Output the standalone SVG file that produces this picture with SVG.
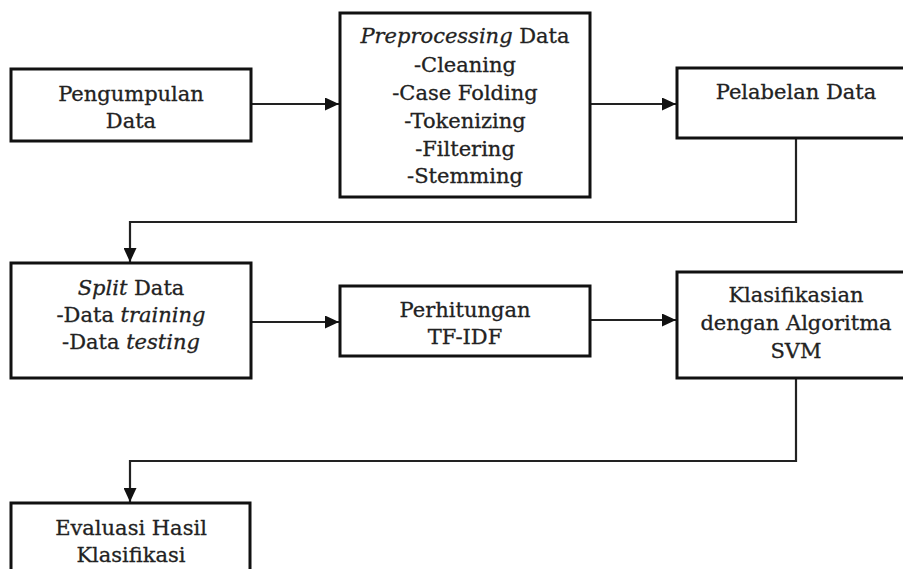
<svg xmlns="http://www.w3.org/2000/svg" width="903" height="569" viewBox="0 0 903 569">
<style>
.box{fill:#fff;stroke:#111;stroke-width:3}
.t{font-family:"DejaVu Serif","Liberation Serif",serif;font-size:21px;fill:#222;stroke:#222;stroke-width:0.3;text-anchor:middle}
.i{font-style:italic}
.c{fill:none;stroke:#222;stroke-width:2.2}
</style>
<defs>
<marker id="ah" markerUnits="userSpaceOnUse" markerWidth="15" markerHeight="13" refX="14" refY="6.5" orient="auto">
<path d="M0,0 L14,6.5 L0,13 z" fill="#111"/>
</marker>
</defs>
<rect width="903" height="569" fill="#fff"/>
<g id="connectors">
<path class="c" d="M251,104 H339" marker-end="url(#ah)"/>
<path class="c" d="M590,104 H676" marker-end="url(#ah)"/>
<path class="c" d="M796,139 V222 H130 V262" marker-end="url(#ah)"/>
<path class="c" d="M251,322 H339" marker-end="url(#ah)"/>
<path class="c" d="M590,320 H676" marker-end="url(#ah)"/>
<path class="c" d="M796,379 V461 H130 V502" marker-end="url(#ah)"/>
</g>
<g id="n1">
<rect class="box" x="11" y="69" width="240" height="72"/>
<text class="t" x="131" y="101">Pengumpulan</text>
<text class="t" x="131" y="128">Data</text>
</g>
<g id="n2">
<rect class="box" x="340" y="13" width="250" height="184"/>
<text class="t" x="465" y="43"><tspan class="i">Preprocessing</tspan> Data</text>
<text class="t" x="465" y="72">-Cleaning</text>
<text class="t" x="465" y="100">-Case Folding</text>
<text class="t" x="465" y="128">-Tokenizing</text>
<text class="t" x="465" y="156">-Filtering</text>
<text class="t" x="465" y="183">-Stemming</text>
</g>
<g id="n3">
<rect class="box" x="677" y="68" width="240" height="70"/>
<text class="t" x="796" y="99">Pelabelan Data</text>
</g>
<g id="n4">
<rect class="box" x="11" y="263" width="240" height="115"/>
<text class="t" x="131" y="295"><tspan class="i">Split</tspan> Data</text>
<text class="t" x="131" y="322">-Data <tspan class="i">training</tspan></text>
<text class="t" x="131" y="349">-Data <tspan class="i">testing</tspan></text>
</g>
<g id="n5">
<rect class="box" x="340" y="286" width="250" height="70"/>
<text class="t" x="465" y="317">Perhitungan</text>
<text class="t" x="465" y="344">TF-IDF</text>
</g>
<g id="n6">
<rect class="box" x="677" y="272" width="240" height="106"/>
<text class="t" x="796" y="302">Klasifikasian</text>
<text class="t" x="796" y="330">dengan Algoritma</text>
<text class="t" x="796" y="358">SVM</text>
</g>
<g id="n7">
<rect class="box" x="11" y="503" width="239" height="100"/>
<text class="t" x="131" y="535">Evaluasi Hasil</text>
<text class="t" x="131" y="562">Klasifikasi</text>
</g>
</svg>
